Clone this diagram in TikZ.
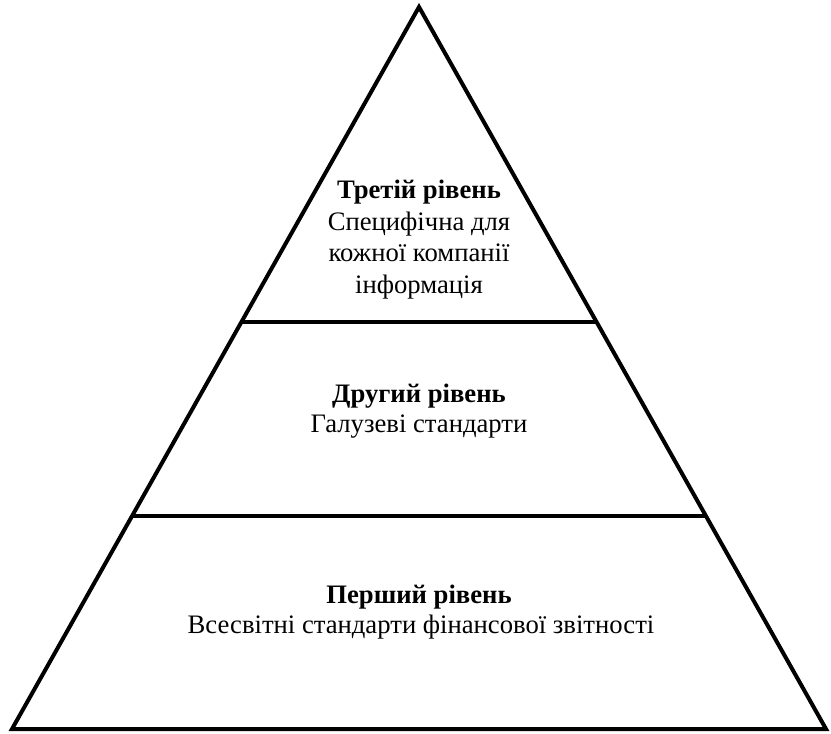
\documentclass[tikz,border=0pt]{standalone}
\usepackage{fontspec}
\setmainfont{Liberation Serif}
\usetikzlibrary{calc}
\begin{document}
\begin{tikzpicture}[x=0.75pt,y=-0.75pt,
  outline/.style={draw=black,line width=3pt,line join=miter},
  divider/.style={draw=black,line width=3pt},
  heading/.style={anchor=base,inner sep=0pt,font=\fontsize{20pt}{23pt}\selectfont\bfseries},
  caption/.style={anchor=base,inner sep=0pt,font=\fontsize{20pt}{23pt}\selectfont}]
  \useasboundingbox (0,0) rectangle (831,734);
  % pyramid outline
  \coordinate (apex) at (419,7);
  \coordinate (bl) at (12,729);
  \coordinate (br) at (826,729);
  \draw[outline] (apex) -- (bl) -- (br) -- cycle;
  % level dividers
  \coordinate (u1) at ($(apex)!0.4363!(bl)$);
  \coordinate (u2) at ($(apex)!0.4363!(br)$);
  \coordinate (l1) at ($(apex)!0.7050!(bl)$);
  \coordinate (l2) at ($(apex)!0.7050!(br)$);
  \draw[divider] (u1) -- (u2);
  \draw[divider] (l1) -- (l2);
  % third level
  \node[heading] (t3) at (419,199) {Третій рівень};
  \node[caption] (t3a) at (419,231) {Специфічна для};
  \node[caption] (t3b) at (419,262) {кожної компанії};
  \node[caption] (t3c) at (419,293) {інформація};
  % second level
  \node[heading] (t2) at (419,402) {Другий рівень};
  \node[caption] (t2a) at (419,432) {Галузеві стандарти};
  % first level
  \node[heading] (t1) at (419,603) {Перший рівень};
  \node[caption] (t1a) at (421,633) {Всесвітні стандарти фінансової звітності};
\end{tikzpicture}
\end{document}
